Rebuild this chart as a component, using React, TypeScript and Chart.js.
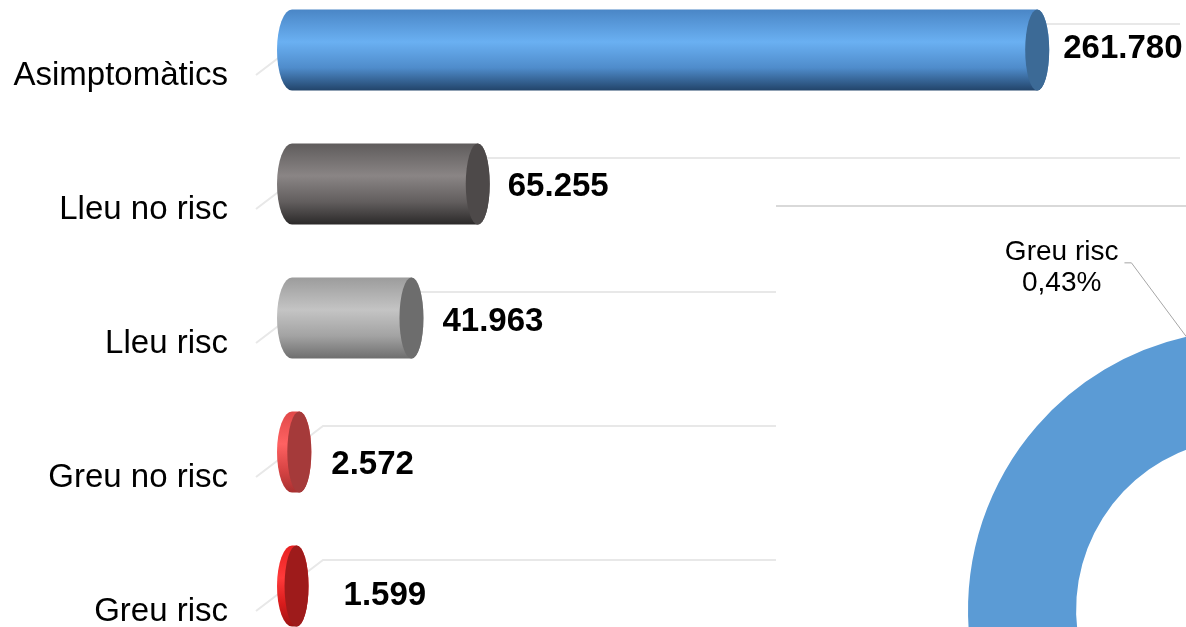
import React, { useEffect, useRef } from "react";
import { Chart, registerables } from "chart.js";

Chart.register(...registerables);

// ---------- data ----------
const categories = ["Asimptomàtics", "Lleu no risc", "Lleu risc", "Greu no risc", "Greu risc"];
const cases = [261780, 65255, 41963, 2572, 1599];
const valueMax = 300000;
const highlightedSlice = "Greu risc";

// ---------- styles ----------
const FONT = '"Liberation Sans", Arial, sans-serif';
const barShades = [
  { stops: ["#4a86c6", "#6ab0f2", "#4f8ccb", "#22446a"], cap: "#3c6a96" },
  { stops: ["#5f5c5c", "#8a8585", "#625e5e", "#2b2929"], cap: "#4d4949" },
  { stops: ["#9c9c9c", "#c4c4c4", "#a3a3a3", "#6e6e6e"], cap: "#6d6d6d" },
  { stops: ["#e04848", "#ff6262", "#d84444", "#a83030"], cap: "#a53a3a" },
  { stops: ["#e82020", "#ff3a3a", "#d81c1c", "#9c1414"], cap: "#9e1b1b" },
];
const ringColors = ["#5B9BD5", "#595959", "#A5A5A5", "#E04848", "#C00000"];
const labelNudgeX = [-4, 0, 1, 2, 17];
const labelNudgeY = [-1, 3, 4, 13, 10];

const fmt = (v: number) => String(v).replace(/\B(?=(\d{3})+(?!\d))/g, ".");

const cylinderPlugin = {
  id: "cylinders",
  beforeDatasetsDraw(chart: any) {
    const ctx = chart.ctx;
    const ys = chart.scales.y;
    const left = chart.chartArea.left;
    ctx.save();
    ctx.strokeStyle = "#e8e8e8";
    ctx.lineWidth = 2;
    categories.forEach((_, i) => {
      const c = ys.getPixelForValue(i);
      ctx.beginPath();
      ctx.moveTo(left - 36, c + 25);
      ctx.lineTo(left + 31, c - 26);
      ctx.lineTo(chart.width - 6, c - 26);
      ctx.stroke();
    });
    ctx.restore();
  },
  afterDatasetsDraw(chart: any) {
    const ctx = chart.ctx;
    const meta = chart.getDatasetMeta(0);
    meta.data.forEach((bar: any, i: number) => {
      const { x, y, base, height } = bar.getProps(["x", "y", "base", "height"], true);
      const ry = height / 2;
      const top = y - ry;
      const bottom = y + ry;
      const capRx = 12;
      const baseRx = 15;
      const shade = barShades[i];
      const g = ctx.createLinearGradient(0, top, 0, bottom);
      g.addColorStop(0, shade.stops[0]);
      g.addColorStop(0.4, shade.stops[1]);
      g.addColorStop(0.72, shade.stops[2]);
      g.addColorStop(1, shade.stops[3]);
      ctx.save();
      ctx.beginPath();
      ctx.moveTo(base, top);
      ctx.lineTo(x, top);
      ctx.ellipse(x, y, capRx, ry, 0, -Math.PI / 2, Math.PI / 2, false);
      ctx.lineTo(base, bottom);
      ctx.ellipse(base, y, baseRx, ry, 0, Math.PI / 2, (3 * Math.PI) / 2, false);
      ctx.closePath();
      ctx.fillStyle = g;
      ctx.fill();
      ctx.beginPath();
      ctx.ellipse(x, y, capRx, ry, 0, 0, Math.PI * 2);
      ctx.fillStyle = shade.cap;
      ctx.fill();
      // value label
      ctx.fillStyle = "#000";
      ctx.font = `bold 33px ${FONT}`;
      ctx.textAlign = "left";
      ctx.textBaseline = "middle";
      ctx.fillText(fmt(cases[i]), x + capRx + 18 + labelNudgeX[i], y + labelNudgeY[i]);
      ctx.restore();
    });
  },
};

const ringLabels = [...categories].reverse();
const ringValues = [...cases].reverse();
const ringColorsOrdered = [...ringColors].reverse();
const total = cases.reduce((a, b) => a + b, 0);

const ringLabelPlugin = {
  id: "ringLabel",
  afterDatasetsDraw(chart: any) {
    const ctx = chart.ctx;
    const idx = ringLabels.indexOf(highlightedSlice);
    const arc = chart.getDatasetMeta(0).data[idx];
    const { x, y, startAngle, outerRadius } = arc.getProps(
      ["x", "y", "startAngle", "outerRadius"],
      true
    );
    const px = x + Math.cos(startAngle) * outerRadius;
    const py = y + Math.sin(startAngle) * outerRadius;
    const ex = px - 55;
    const ey = py - 74;
    ctx.save();
    ctx.strokeStyle = "#a6a6a6";
    ctx.lineWidth = 1;
    ctx.beginPath();
    ctx.moveTo(ex - 7, ey);
    ctx.lineTo(ex, ey);
    ctx.lineTo(px, py);
    ctx.stroke();
    const pct = ((ringValues[idx] / total) * 100).toFixed(2).replace(".", ",") + "%";
    ctx.font = `28px ${FONT}`;
    const w = Math.max(ctx.measureText(highlightedSlice).width, ctx.measureText(pct).width);
    const cx = ex - 13 - w / 2;
    ctx.fillStyle = "#000";
    ctx.textAlign = "center";
    ctx.textBaseline = "middle";
    ctx.fillText(highlightedSlice, cx, ey - 11);
    ctx.fillText(pct, cx, ey + 20);
    ctx.restore();
  },
};

export default function App() {
  const barRef = useRef<HTMLCanvasElement>(null);
  const ringRef = useRef<HTMLCanvasElement>(null);

  useEffect(() => {
    const bar = new Chart(barRef.current as HTMLCanvasElement, {
      type: "bar",
      data: {
        labels: categories,
        datasets: [
          {
            data: cases,
            backgroundColor: "rgba(0,0,0,0)",
            borderWidth: 0,
            barThickness: 81,
          },
        ],
      },
      options: {
        indexAxis: "y",
        animation: false,
        responsive: false,
        events: [],
        layout: { padding: { top: 23, bottom: 27, left: 0, right: 40 } },
        plugins: { legend: { display: false }, tooltip: { enabled: false } },
        scales: {
          x: { display: false, min: 0, max: valueMax },
          y: {
            grid: { display: false, drawTicks: true, tickLength: 64 },
            border: { display: false },
            afterFit: (s: any) => {
              s.width = 292;
            },
            ticks: {
              padding: 0,
              labelOffset: 26,
              color: "#000",
              font: { family: FONT, size: 33 },
            },
          },
        },
      } as any,
      plugins: [cylinderPlugin],
    });

    const ring = new Chart(ringRef.current as HTMLCanvasElement, {
      type: "doughnut",
      data: {
        labels: ringLabels,
        datasets: [
          {
            data: ringValues,
            backgroundColor: ringColorsOrdered,
            borderWidth: 0,
          },
        ],
      },
      options: {
        animation: false,
        responsive: false,
        events: [],
        rotation: -12.7,
        cutout: "61.4%",
        layout: { padding: { top: 123, left: 192, right: 248, bottom: 217 } },
        plugins: { legend: { display: false }, tooltip: { enabled: false } },
      } as any,
      plugins: [ringLabelPlugin],
    });

    return () => {
      bar.destroy();
      ring.destroy();
    };
  }, []);

  return (
    <div
      style={{
        position: "fixed",
        left: 0,
        top: 0,
        width: 1186,
        height: 627,
        overflow: "hidden",
        background: "#fff",
      }}
    >
      <canvas
        ref={barRef}
        width={1186}
        height={720}
        style={{ position: "absolute", left: 0, top: -40, width: 1186, height: 720 }}
      />
      <div
        style={{
          position: "absolute",
          left: 776,
          top: 205,
          width: 1000,
          height: 900,
          background: "#fff",
          borderTop: "2px solid #d9d9d9",
        }}
      >
        <canvas
          ref={ringRef}
          width={1000}
          height={900}
          style={{ position: "absolute", left: 0, top: 0, width: 1000, height: 900 }}
        />
      </div>
    </div>
  );
}
